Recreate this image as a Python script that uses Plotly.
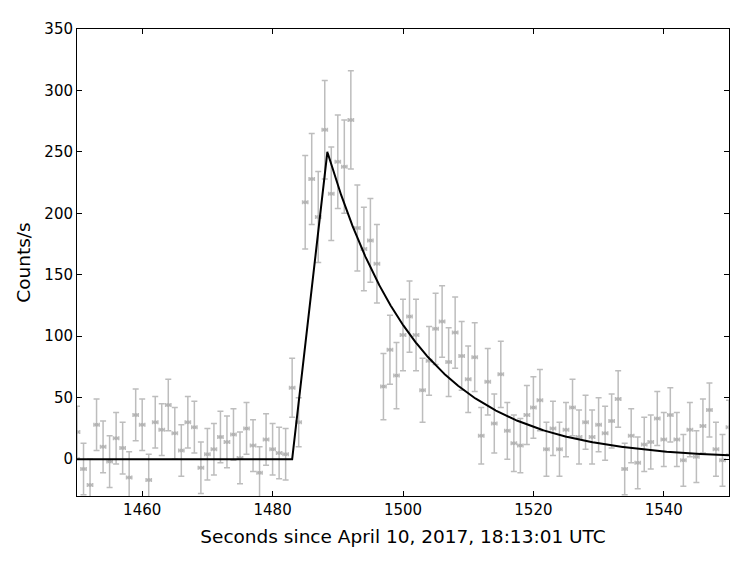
import numpy as np
import plotly.graph_objects as go

# Time bins (seconds since April 10, 2017, 18:13:01 UTC)
time_s = list(range(1450, 1551))

# Count rate per bin (Counts/s)
rate = [
    22, -8, -21, 28, 10, -2, 17, 9, -15, 36,      # 1450-1459
    28, -17, 30, 24, 44, 21, 7, 30, 26, -7,       # 1460-1469
    4, 8, 18, 14, 20, 1, 25, 11, -11, 16,         # 1470-1479
    8, 5, 4, 58, 30, 209, 228, 197, 268, 216,     # 1480-1489
    242, 238, 276, 188, 171, 178, 159, 59, 89, 68,  # 1490-1499
    101, 116, 101, 56, 80, 106, 112, 79, 103, 84,  # 1500-1509
    65, 83, 19, 63, 29, 69, 23, 13, 11, 36,       # 1510-1519
    42, 48, 8, 25, 8, 24, 42, 18, 30, 18,         # 1520-1529
    28, 21, 31, 49, -8, 19, -3, 12, 14, 33,       # 1530-1539
    16, 36, 16, -1, 24, 2, 27, 40, 8, -1,         # 1540-1549
    26,                                           # 1550
]

# 1-sigma error on each rate (Counts/s)
rate_err = [
    21, 21, 21, 21, 21, 21, 21, 21, 21, 21,
    21, 21, 21, 21, 21, 21, 21, 21, 21, 21,
    21, 21, 21, 21, 21, 21, 21, 21, 21, 21,
    21, 21, 21, 24, 20, 38, 37, 37, 40, 38,
    38, 38, 40, 35, 34, 34, 32, 27, 28, 27,
    29, 29, 29, 26, 28, 29, 29, 28, 29, 28,
    27, 28, 23, 27, 24, 27, 23, 23, 22, 24,
    25, 25, 22, 22, 22, 22, 23, 22, 22, 22,
    22, 22, 22, 23, 21, 22, 21, 22, 22, 22,
    22, 22, 22, 21, 22, 21, 22, 22, 22, 21,
    22,
]

# Half-width of each time bin (s)
bin_half_width = 0.4

# Fitted pulse model: linear rise, exponential decay
model_t_start = 1483.0
model_t_peak = 1488.4
model_amplitude = 250.0
model_tau = 14.0

t_model = np.linspace(1450, 1550, 2001)
model = np.where(
    t_model < model_t_start,
    0.0,
    np.where(
        t_model < model_t_peak,
        model_amplitude * (t_model - model_t_start) / (model_t_peak - model_t_start),
        model_amplitude * np.exp(-(t_model - model_t_peak) / model_tau),
    ),
)

x_ticks = [1460, 1480, 1500, 1520, 1540]
y_ticks = [0, 50, 100, 150, 200, 250, 300, 350]

font_family = "DejaVu Sans"
grey = "#bdbdbd"

fig = go.Figure()
fig.add_trace(go.Scatter(
    x=time_s, y=rate, mode="markers",
    marker=dict(color="#b3b3b3", size=4),
    error_y=dict(type="data", array=rate_err, color=grey, thickness=1.5, width=3),
    error_x=dict(type="constant", value=bin_half_width, color=grey, thickness=1.5, width=2),
    showlegend=False,
))
fig.add_trace(go.Scatter(
    x=t_model, y=model, mode="lines",
    line=dict(color="black", width=2),
    showlegend=False,
))

axis_common = dict(
    showline=True, linecolor="black", linewidth=1, mirror="ticks",
    ticks="inside", ticklen=5, tickwidth=1, tickcolor="black",
    showgrid=False, zeroline=False,
    tickfont=dict(family=font_family, size=15, color="black"),
)

fig.update_layout(
    width=747, height=561,
    margin=dict(l=69, r=26, t=17, b=73),
    paper_bgcolor="white", plot_bgcolor="white",
    font=dict(family=font_family, color="black"),
    xaxis=dict(
        range=[1450, 1550], tickvals=x_ticks,
        title=dict(text="Seconds since April 10, 2017, 18:13:01 UTC",
                   font=dict(family=font_family, size=18.5), standoff=12),
        **axis_common,
    ),
    yaxis=dict(
        range=[-30, 350], tickvals=y_ticks,
        title=dict(text="Counts/s", font=dict(family=font_family, size=18.5), standoff=8),
        **axis_common,
    ),
)

fig.write_html("out.html")
